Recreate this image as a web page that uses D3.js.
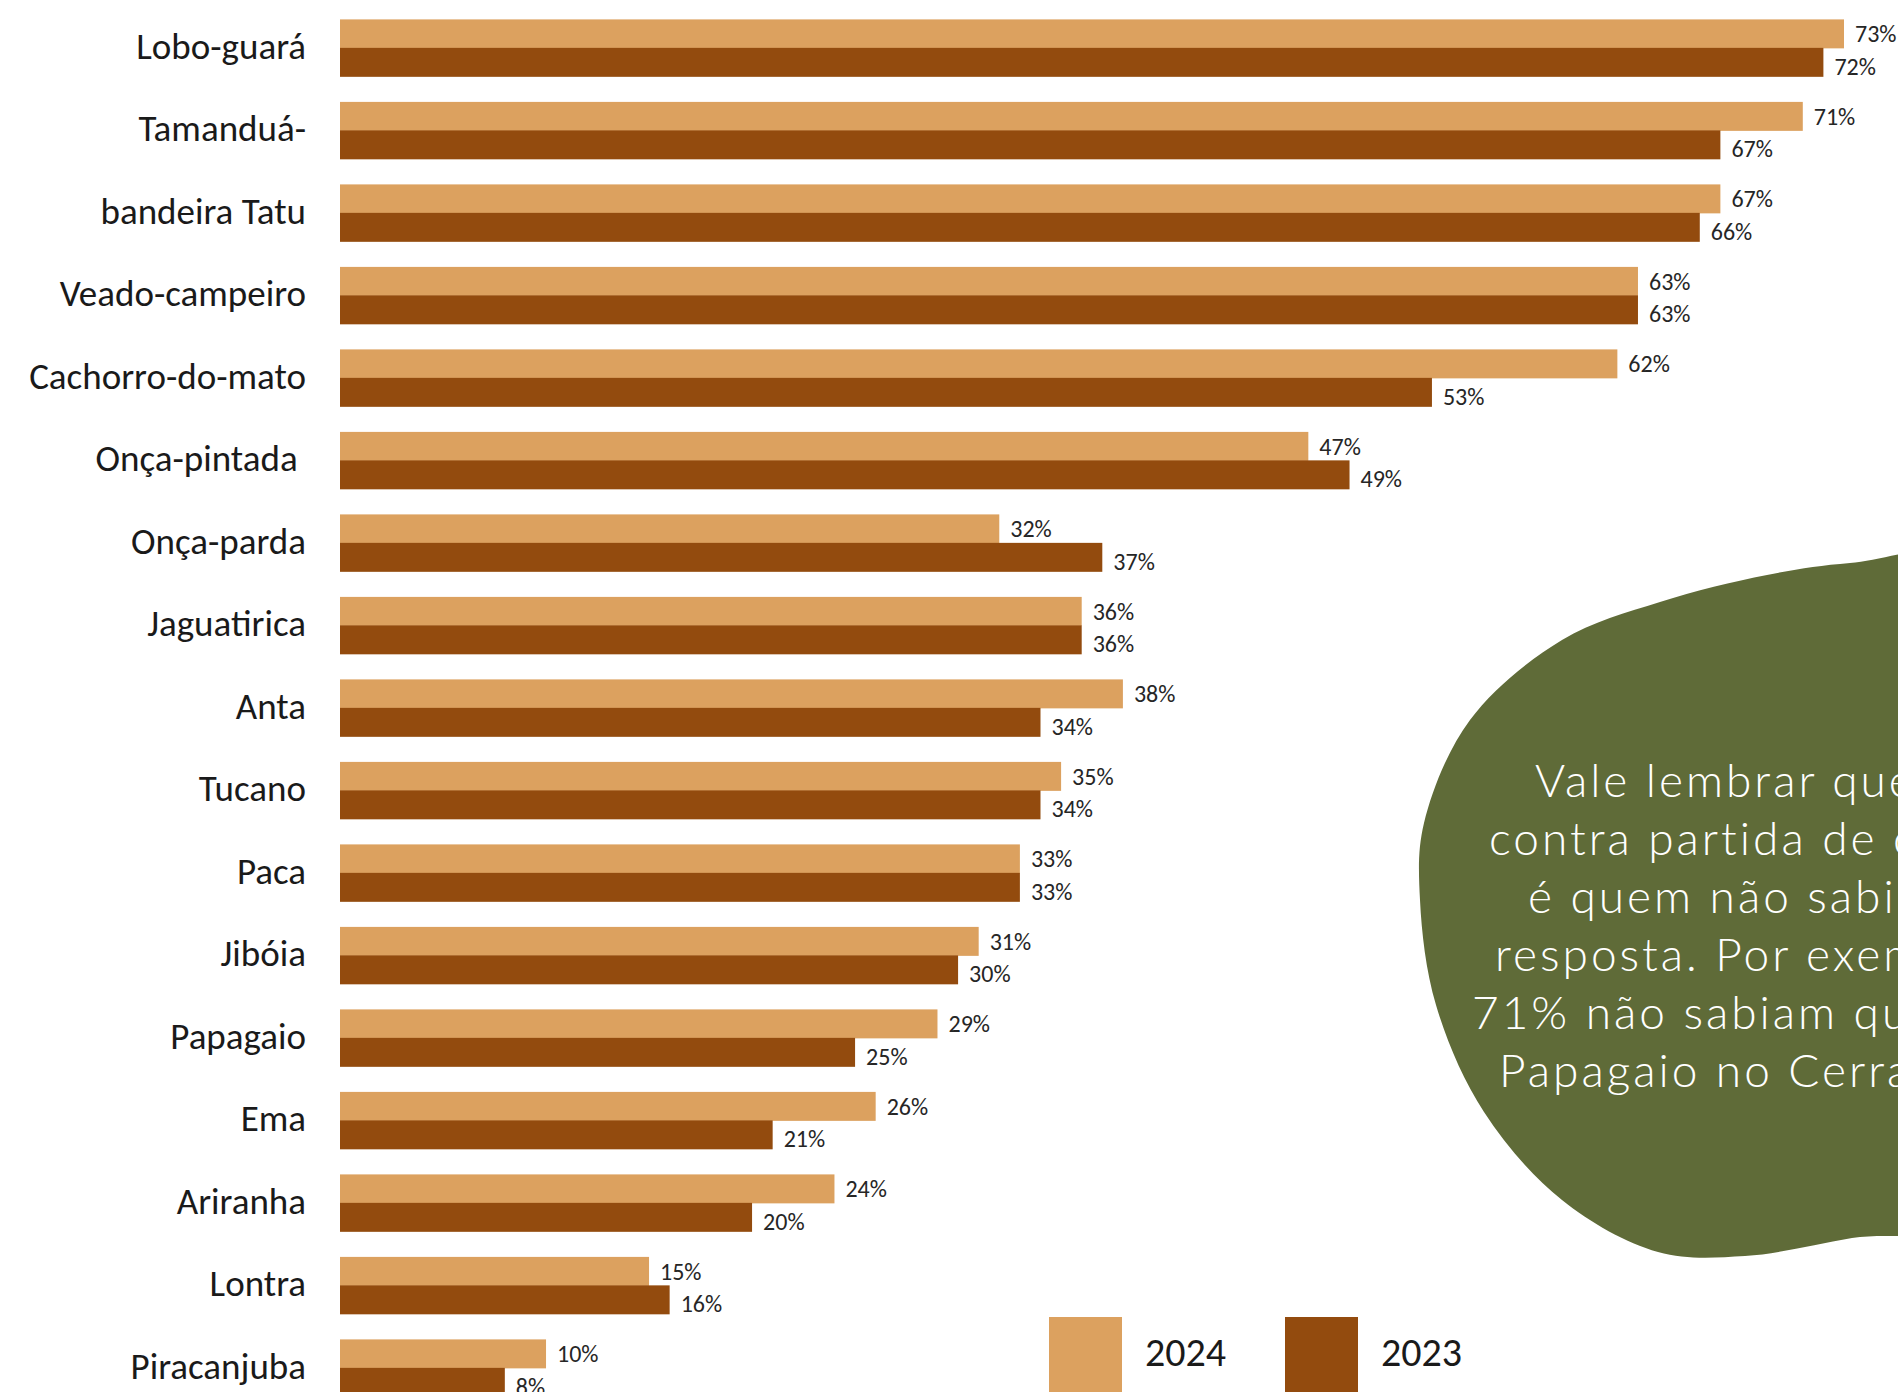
<!DOCTYPE html>
<html>
<head>
<meta charset="utf-8">
<script src="https://cdn.jsdelivr.net/npm/d3@7"></script>
<style>
  html, body { margin: 0; padding: 0; background: #ffffff; overflow: hidden; }
  svg { display: block; }
</style>
</head>
<body>
<svg id="chart" width="1898" height="1392"></svg>
<script>
// ---- data ----
const categories = ["Lobo-guará", "Tamanduá-", "bandeira Tatu", "Veado-campeiro", "Cachorro-do-mato",
  "Onça-pintada ", "Onça-parda", "Jaguatirica", "Anta", "Tucano", "Paca", "Jibóia", "Papagaio",
  "Ema", "Ariranha", "Lontra", "Piracanjuba"];
const values2024 = [73, 71, 67, 63, 62, 47, 32, 36, 38, 35, 33, 31, 29, 26, 24, 15, 10];
const values2023 = [72, 67, 66, 63, 53, 49, 37, 36, 34, 34, 33, 30, 25, 21, 20, 16, 8];
const seriesNames = ["2024", "2023"];
const seriesColors = ["#DCA15F", "#934B0E"];
const noteLines = ["Vale lembrar que a", "contra partida de cada %", "é quem não sabia a",
  "resposta. Por exemplo,", "71% não sabiam que há", "Papagaio no Cerrado."];

// ---- layout ----
const W = 1898, H = 1392;
const svg = d3.select("#chart");
const fontMain = "Carlito, Lato, 'Liberation Sans', sans-serif";

const step = 82.5;
const y = d3.scaleBand()
  .domain(categories)
  .range([19.4 - step * 0.155, 19.4 - step * 0.155 + step * categories.length])
  .paddingInner(0.31)
  .paddingOuter(0.155);
const ySub = d3.scaleBand().domain(seriesNames).range([0, y.bandwidth()]);
const x = d3.scaleLinear().domain([0, 73]).range([340, 1844]);

const rows = categories.map((c, i) => ({ cat: c, vals: [values2024[i], values2023[i]] }));

// green annotation blob (decoration)
const blobPts = [[1990, 560], [1850, 563], [1767, 575], [1660, 602], [1562, 640], [1470, 720],
  [1424, 823], [1420, 900], [1436, 1005], [1484, 1112], [1562, 1200], [1658, 1252],
  [1745, 1256], [1852, 1238], [1990, 1215], [2040, 900]];
svg.append("path")
  .attr("d", d3.line().curve(d3.curveCatmullRomClosed.alpha(0.5))(blobPts))
  .attr("fill", "#5F6B38");

const note = svg.append("g")
  .attr("font-family", "Lato, 'Open Sans', sans-serif")
  .attr("font-weight", 300)
  .attr("font-size", 46)
  .attr("letter-spacing", 3)
  .attr("fill", "#ffffff");
const noteStartX = [1535, 1489, 1528, 1495, 1472, 1499];
noteLines.forEach((t, i) => {
  note.append("text")
    .attr("x", noteStartX[i])
    .attr("y", 797 + i * 58)
    .text(t);
});

// bars
const g = svg.append("g");
const rowG = g.selectAll("g.row").data(rows).join("g")
  .attr("class", "row")
  .attr("transform", d => `translate(0,${y(d.cat)})`);

rowG.selectAll("rect").data(d => d.vals.map((v, k) => ({ v, k })))
  .join("rect")
  .attr("x", x(0))
  .attr("y", d => ySub(seriesNames[d.k]))
  .attr("width", d => x(d.v) - x(0))
  .attr("height", ySub.bandwidth() + 0.5)
  .attr("fill", d => seriesColors[d.k]);

rowG.selectAll("text.val").data(d => d.vals.map((v, k) => ({ v, k })))
  .join("text")
  .attr("class", "val")
  .attr("x", d => x(d.v) + 11)
  .attr("y", d => ySub(seriesNames[d.k]) + ySub.bandwidth() / 2 + (d.k === 1 ? 4.5 : 0))
  .attr("dy", "0.35em")
  .attr("font-family", fontMain)
  .attr("font-size", 24)
  .attr("fill", "#262626")
  .text(d => d.v + "%");

// category labels
g.selectAll("text.cat").data(categories).join("text")
  .attr("class", "cat")
  .attr("x", 306)
  .attr("y", d => y(d) + y.bandwidth() / 2 - 2)
  .attr("dy", "0.35em")
  .attr("text-anchor", "end")
  .attr("font-family", fontMain)
  .attr("font-size", 37)
  .attr("fill", "#1a1a1a")
  .style("white-space", "pre")
  .text(d => d);

// legend
const legend = svg.append("g");
const legX = [1049, 1285];
seriesNames.forEach((s, i) => {
  legend.append("rect")
    .attr("x", legX[i]).attr("y", 1317)
    .attr("width", 73).attr("height", 80)
    .attr("fill", seriesColors[i]);
  legend.append("text")
    .attr("x", legX[i] + 96).attr("y", 1352)
    .attr("dy", "0.35em")
    .attr("font-family", fontMain)
    .attr("font-size", 40)
    .attr("fill", "#1a1a1a")
    .text(s);
});
</script>
</body>
</html>
